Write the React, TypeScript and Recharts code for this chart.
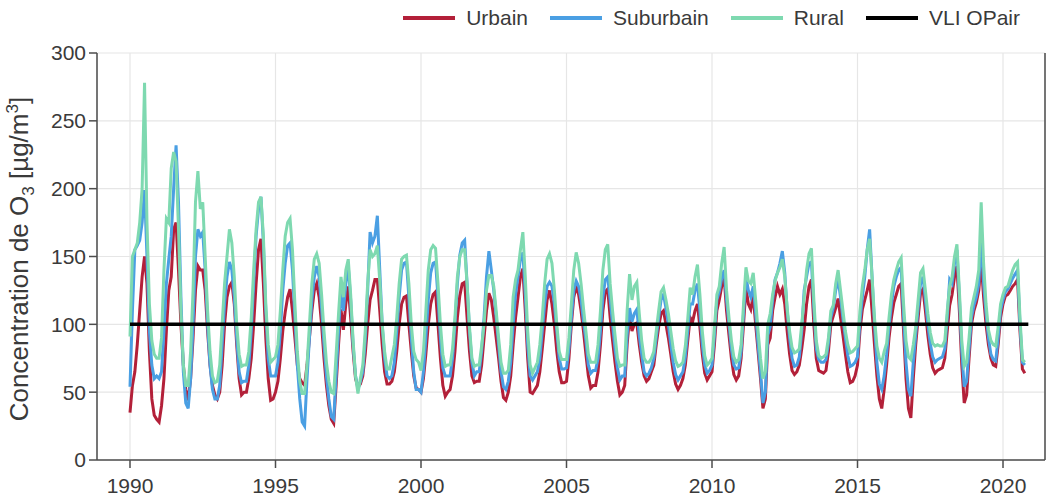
import { LineChart, Line, XAxis, YAxis, CartesianGrid } from "recharts";

const FONT = "'Liberation Sans', Arial, sans-serif";
const AXIS = "#4d4d4d";
const GRID = "#e6e6e6";
const TEXT = "#3a3a3a";

const COLORS = {
  urbain: "#b32039",
  suburbain: "#4a9fe3",
  rural: "#7ed9b0",
  vli: "#000000",
};

// monthly values, Jan 1990 -> Oct 2020 (one row per year)
const URBAIN = [
  35, 55, 65, 85, 110, 135, 150, 130, 80, 45, 33, 30,
  28, 40, 60, 95, 125, 135, 170, 175, 140, 100, 70, 52,
  44, 60, 90, 125, 143, 140, 140, 125, 95, 70, 55, 48,
  45, 50, 70, 100, 120, 128, 131, 115, 85, 60, 48, 50,
  50, 60, 75, 100, 130, 155, 163, 130, 90, 60, 44, 45,
  50, 58, 75, 95, 109, 120, 126, 110, 90, 70, 60, 57,
  55, 70, 90, 110, 125, 130, 120, 100, 75, 55, 40, 30,
  27, 55, 85, 111, 96, 115, 128, 105, 80, 60, 54, 56,
  62, 78, 100, 118, 125, 133, 133, 110, 85, 65, 56, 56,
  58, 65, 80, 100, 115, 120, 121, 100, 80, 62, 53, 52,
  50, 60, 78, 100, 115, 122, 124, 100, 75, 55, 47, 50,
  52, 62, 80, 105, 121, 130, 131, 105, 80, 62, 57, 58,
  58, 70, 90, 110, 123, 118, 105, 90, 75, 58, 46, 44,
  50, 62, 85, 105, 120, 135, 141, 110, 75, 50, 49, 52,
  55, 65, 82, 100, 118, 125, 115, 100, 80, 65, 57, 57,
  58, 75, 100, 120, 128, 122, 110, 95, 78, 62, 53, 55,
  55, 65, 85, 110, 124, 126, 105, 88, 72, 58, 48, 50,
  55, 85, 106, 95, 100, 101, 85, 72, 62, 58, 60, 65,
  70, 85, 98, 108, 110, 100, 90, 78, 65, 56, 52, 55,
  60, 70, 88, 105, 102, 110, 115, 98, 78, 64, 59, 62,
  65, 85, 110, 118, 128, 135, 110, 92, 75, 63, 59, 62,
  75, 100, 127, 115, 111, 121, 100, 80, 60, 38, 45, 85,
  90, 110, 120, 128, 122, 126, 115, 95, 78, 66, 63, 65,
  70, 82, 96, 115, 128, 133, 100, 75, 66, 65, 64, 66,
  80, 100, 106, 112, 119, 105, 92, 78, 65, 57, 58, 62,
  70, 95, 111, 118, 125, 133, 110, 85, 62, 45, 38, 52,
  70, 90, 105, 116, 122, 128, 130, 95, 60, 38, 31, 60,
  85, 105, 123, 126, 110, 92, 78, 68, 64, 66, 67, 68,
  75, 95, 114, 122, 135, 143, 110, 70, 42, 48, 75, 100,
  110, 116, 125, 146, 120, 100, 85, 75, 70, 69, 85, 105,
  115, 121, 122, 125, 128, 130, 133, 95, 67, 64,
];

const SUBURBAIN = [
  54, 110, 155, 158, 162, 175, 199, 150, 95, 70, 60, 62,
  60, 65, 95, 130, 148, 165, 200, 232, 190, 120, 65, 42,
  38, 60, 100, 150, 170, 165, 168, 140, 100, 70, 52, 45,
  45, 55, 85, 115, 135, 146, 140, 120, 90, 65, 57, 58,
  58, 70, 95, 130, 165, 185, 194, 160, 110, 75, 62, 62,
  62, 72, 95, 125, 145, 158, 160, 140, 105, 70, 45, 28,
  25, 60, 90, 118, 135, 143, 135, 112, 85, 62, 45, 32,
  30, 62, 95, 125, 110, 130, 143, 118, 85, 62, 52, 58,
  65, 88, 125, 168, 160, 165, 180, 140, 100, 75, 62, 60,
  62, 72, 95, 120, 140, 145, 146, 120, 90, 65, 52, 52,
  50, 65, 90, 118, 138, 145, 146, 120, 90, 68, 62, 62,
  62, 75, 100, 130, 151, 160, 162, 130, 95, 72, 62, 65,
  65, 80, 105, 135, 154, 140, 125, 105, 85, 65, 54, 52,
  58, 72, 100, 122, 135, 148, 153, 122, 85, 62, 59, 62,
  65, 75, 95, 115, 128, 131, 128, 115, 95, 75, 67, 67,
  68, 82, 105, 125, 132, 128, 118, 102, 88, 70, 64, 66,
  66, 75, 95, 120, 133, 135, 118, 100, 82, 68, 59, 62,
  62, 92, 112, 102, 108, 111, 92, 78, 65, 62, 64, 68,
  75, 90, 105, 118, 122, 112, 100, 85, 72, 63, 59, 62,
  65, 76, 95, 115, 115, 125, 130, 110, 85, 70, 64, 66,
  70, 92, 118, 124, 134, 140, 118, 100, 82, 70, 67, 68,
  80, 108, 135, 125, 120, 128, 108, 85, 65, 42, 50, 92,
  98, 118, 133, 138, 145, 154, 138, 110, 90, 75, 69, 70,
  76, 95, 125, 135, 145, 146, 112, 82, 74, 72, 72, 74,
  86, 105, 112, 125, 133, 120, 104, 90, 77, 69, 70, 72,
  76, 102, 120, 135, 155, 170, 135, 100, 72, 56, 52, 62,
  78, 98, 115, 128, 135, 140, 142, 105, 72, 52, 47, 72,
  92, 112, 130, 135, 118, 100, 86, 76, 72, 74, 75, 76,
  82, 105, 133, 130, 145, 155, 120, 80, 54, 58, 82, 105,
  114, 120, 130, 163, 130, 108, 90, 78, 74, 73, 90, 110,
  118, 124, 126, 130, 134, 137, 140, 100, 72, 70,
];

const RURAL = [
  91, 150, 155, 160, 175, 200, 278, 175, 115, 88, 78, 75,
  75, 90, 140, 178, 175, 215, 227, 220, 170, 110, 70, 55,
  55, 80, 125, 190, 213, 185, 190, 150, 110, 80, 62, 57,
  58, 70, 100, 130, 150, 170, 160, 135, 100, 78, 69, 70,
  70, 80, 105, 140, 170, 190, 194, 165, 115, 85, 72, 74,
  76, 85, 110, 140, 165, 175, 178, 155, 115, 80, 58, 49,
  49, 70, 100, 130, 148, 152, 145, 122, 95, 72, 58, 50,
  49, 78, 108, 135, 120, 140, 148, 122, 88, 62, 49, 60,
  70, 95, 130, 155, 150, 152, 158, 132, 100, 80, 67, 67,
  76, 85, 105, 130, 148, 150, 151, 130, 100, 80, 74, 72,
  66, 80, 110, 140, 155, 158, 156, 130, 100, 78, 69, 70,
  70, 82, 105, 135, 150, 155, 155, 130, 98, 75, 69, 70,
  70, 84, 100, 125, 136, 136, 128, 110, 90, 72, 64, 64,
  66, 85, 120, 133, 140, 155, 168, 135, 95, 70, 64, 68,
  72, 85, 105, 130, 148, 152, 145, 125, 100, 80, 74, 74,
  74, 90, 115, 140, 153, 145, 130, 112, 95, 78, 72, 72,
  72, 85, 110, 140, 155, 159, 130, 110, 92, 75, 69, 70,
  70, 110, 137, 118, 128, 131, 108, 88, 75, 72, 72, 75,
  80, 95, 110, 124, 127, 118, 108, 95, 82, 73, 69, 70,
  72, 84, 104, 127, 122, 135, 144, 122, 95, 77, 70, 72,
  75, 98, 122, 128, 145, 157, 125, 105, 88, 76, 72, 74,
  85, 115, 142, 132, 130, 138, 118, 95, 75, 60, 65, 100,
  108, 122, 132, 138, 142, 148, 135, 112, 95, 83, 79, 80,
  82, 100, 120, 140, 152, 156, 118, 88, 77, 75, 76, 78,
  90, 110, 114, 130, 140, 125, 110, 95, 85, 79, 80, 82,
  84, 110, 128, 140, 155, 163, 135, 105, 84, 75, 72, 80,
  86, 105, 122, 133, 140, 146, 149, 115, 88, 76, 74, 85,
  98, 118, 138, 141, 125, 108, 94, 86, 84, 85, 84, 84,
  88, 110, 128, 135, 150, 159, 125, 88, 69, 72, 90, 112,
  120, 128, 140, 190, 145, 115, 96, 88, 85, 84, 98, 115,
  122, 127, 128, 134, 140, 144, 146, 105, 74, 72,
];

const START_YEAR = 1990;
const VLI_YEARS = [1990, 2020.87];
const VLI_VALUE = 100;

const X_TICKS = [1990, 1995, 2000, 2005, 2010, 2015, 2020];
const Y_TICKS = [0, 50, 100, 150, 200, 250, 300];
const X_DOMAIN = [1988.866, 2021.443];

const LEGEND = [
  { label: "Urbain", color: COLORS.urbain },
  { label: "Suburbain", color: COLORS.suburbain },
  { label: "Rural", color: COLORS.rural },
  { label: "VLI OPair", color: COLORS.vli },
];

const data = URBAIN.map((u, i) => ({
  t: START_YEAR + i / 12,
  urbain: u,
  suburbain: SUBURBAIN[i],
  rural: RURAL[i],
}));

const vliData = VLI_YEARS.map((t) => ({ t, vli: VLI_VALUE }));

function YLabel() {
  return (
    <text
      transform="translate(28, 259) rotate(-90)"
      textAnchor="middle"
      fill={TEXT}
      fontSize={26}
      fontFamily={FONT}
    >
      Concentration de O
      <tspan fontSize={17} dy={6}>3</tspan>
      <tspan dy={-6}> [µg/m</tspan>
      <tspan fontSize={17} dy={-10}>3</tspan>
      <tspan dy={10}>]</tspan>
    </text>
  );
}

export default function App() {
  const tick = { fill: TEXT, fontSize: 21, fontFamily: FONT };
  return (
    <div style={{ position: "absolute", left: 0, top: 0, width: 1050, height: 502, background: "#fff" }}>
      {/* Legend */}
      <div style={{
        position: "absolute", top: 6, right: 30, display: "flex", alignItems: "center",
        gap: 22, fontFamily: FONT, fontSize: 21, color: TEXT,
      }}>
        {LEGEND.map((l) => (
          <div key={l.label} style={{ display: "flex", alignItems: "center", gap: 11 }}>
            <span style={{ width: 52, height: 4, background: l.color, display: "inline-block" }} />
            <span>{l.label}</span>
          </div>
        ))}
      </div>

      <LineChart width={1050} height={502} margin={{ top: 53, right: 3, bottom: 0, left: 0 }}>
        <CartesianGrid stroke={GRID} strokeWidth={1.2} />
        <XAxis
          dataKey="t" type="number" domain={X_DOMAIN} ticks={X_TICKS} allowDataOverflow
          height={42} tickSize={8} tickMargin={10} tick={tick}
          stroke={AXIS} strokeWidth={1.5} tickLine={{ stroke: AXIS, strokeWidth: 1.5 }}
        />
        <XAxis
          xAxisId="top" orientation="top" dataKey="t" type="number" domain={X_DOMAIN}
          height={0} tick={false} tickLine={false} stroke={AXIS} strokeWidth={2}
        />
        <YAxis
          type="number" domain={[0, 300]} ticks={Y_TICKS} width={97}
          tickSize={8} tickMargin={3} tick={tick}
          stroke={AXIS} strokeWidth={1.5} tickLine={{ stroke: AXIS, strokeWidth: 1.5 }}
          label={<YLabel />}
        />
        <YAxis
          yAxisId="right" orientation="right" type="number" domain={[0, 300]}
          width={2} tick={false} tickLine={false} stroke={AXIS} strokeWidth={1.5}
        />
        <Line dataKey="urbain" data={data} type="linear" stroke={COLORS.urbain} strokeWidth={3}
          dot={false} isAnimationActive={false} />
        <Line dataKey="suburbain" data={data} type="linear" stroke={COLORS.suburbain} strokeWidth={3}
          dot={false} isAnimationActive={false} />
        <Line dataKey="rural" data={data} type="linear" stroke={COLORS.rural} strokeWidth={3}
          dot={false} isAnimationActive={false} />
        <Line dataKey="vli" data={vliData} type="linear" stroke={COLORS.vli} strokeWidth={3.5}
          dot={false} isAnimationActive={false} />
      </LineChart>
    </div>
  );
}
